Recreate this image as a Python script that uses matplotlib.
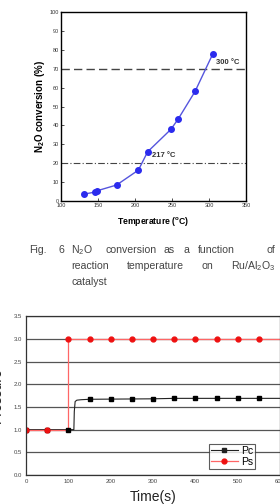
import matplotlib
matplotlib.use("Agg")
import matplotlib.pyplot as plt

plt.rcParams['font.family'] = ['Liberation Sans', 'DejaVu Sans']
plt.rcParams['mathtext.fontset'] = 'custom'
plt.rcParams['mathtext.rm'] = 'Liberation Sans'
plt.rcParams['mathtext.bf'] = 'Liberation Sans:bold'

# N2O conversion vs temperature
temp = [131.5, 146, 149, 175, 204.5, 217, 248.5, 258.5, 281, 305]
conv = [3.7, 4.8, 5.5, 8.5, 16.4, 26.1, 38.0, 43.6, 58.0, 77.9]

# pressure vs time
t_mark = [0, 50, 100, 150, 200, 250, 300, 350, 400, 450, 500, 550]
pc_mark = [1.0, 1.0, 1.0, 1.67, 1.67, 1.67, 1.68, 1.69, 1.69, 1.69, 1.69, 1.69]
ps_mark = [1.0, 1.0, 3.0, 3.0, 3.0, 3.0, 3.0, 3.0, 3.0, 3.0, 3.0, 3.0]
t_pc_line = [0, 113, 114, 116, 120, 130, 150, 300, 350, 600]
pc_line = [1.0, 1.0, 1.4, 1.62, 1.65, 1.66, 1.67, 1.68, 1.69, 1.69]
t_ps_line = [0, 100, 100, 600]
ps_line = [1.0, 1.0, 3.0, 3.0]

fig = plt.figure(figsize=(2.8, 5.04), dpi=100)

# ---- top chart
ax1 = fig.add_axes([0.218, 0.601, 0.661, 0.375])
ax1.axhline(70, color='#444444', lw=1.0, ls=(0, (6, 3)))
ax1.axhline(20, color='#444444', lw=0.8, ls=(0, (6, 2, 1, 2)))
ax1.plot(temp, conv, color='#5555dd', lw=1.0, marker='o', ms=4,
         mfc='#2b2bee', mec='#2b2bee')
ax1.text(309, 73.5, '300 °C', fontsize=5.5, fontweight='bold', color='#333333',
         va='center', ha='left')
ax1.text(222.5, 24, '217 °C', fontsize=5.5, fontweight='bold', color='#333333',
         va='center', ha='left')
ax1.set_xlim(100, 350)
ax1.set_ylim(0, 100)
ax1.set_xticks(range(100, 351, 50))
ax1.set_yticks(range(0, 101, 10))
ax1.tick_params(labelsize=4, colors='#333333', length=2, width=0.6, direction='in', pad=1.5)
for s in ax1.spines.values():
    s.set_linewidth(1.0)
ax1.set_xlabel('Temperature ($\\mathbf{^o}$C)', fontsize=6.2, fontweight='bold', labelpad=5)
ax1.set_ylabel('N$_\\mathbf{2}$O conversion (%)', fontsize=7, fontweight='bold', labelpad=2)

# ---- caption (justified by hand)
cap_col = '#444444'
cap_fs = 7.6
line1 = [(29, 'Fig.'), (58, '6'), (71, 'N$_2$O'), (105, 'conversion'), (163, 'as'),
         (183, 'a'), (198, 'function')]
for x, w in line1:
    fig.text(x / 280, 1 - 250 / 504, w, fontsize=cap_fs, color=cap_col, va='center')
fig.text(275 / 280, 1 - 250 / 504, 'of', fontsize=cap_fs, color=cap_col,
         va='center', ha='right')
line2 = [(71, 'reaction'), (127, 'temperature'), (202, 'on')]
for x, w in line2:
    fig.text(x / 280, 1 - 266 / 504, w, fontsize=cap_fs, color=cap_col, va='center')
fig.text(275 / 280, 1 - 266 / 504, 'Ru/Al$_2$O$_3$', fontsize=cap_fs, color=cap_col,
         va='center', ha='right')
fig.text(71 / 280, 1 - 282 / 504, 'catalyst', fontsize=cap_fs, color=cap_col, va='center')

# ---- bottom chart
ax2 = fig.add_axes([0.093, 0.0575, 0.907, 0.315])
ax2.plot(t_pc_line, pc_line, color='#222222', lw=0.8)
ax2.plot(t_ps_line, ps_line, color='#ff6666', lw=0.9)
ax2.plot(t_mark, pc_mark, ls='none', marker='s', ms=3.2, color='black')
ax2.plot(t_mark, ps_mark, ls='none', marker='o', ms=3.5, color='#ee1111')
ax2.plot([], [], color='#222222', lw=0.8, marker='s', ms=3.2, label='Pc')
ax2.plot([], [], color='#ff6666', lw=0.9, marker='o', ms=3.5, mfc='#ee1111',
         mec='#ee1111', label='Ps')
ax2.set_xlim(0, 600)
ax2.set_ylim(0, 3.5)
ax2.set_xticks(range(0, 601, 100))
ax2.set_yticks([0, 0.5, 1.0, 1.5, 2.0, 2.5, 3.0, 3.5])
ax2.set_yticklabels(['0.0', '0.5', '1.0', '1.5', '2.0', '2.5', '3.0', '3.5'])
ax2.yaxis.grid(True, color='#555555', lw=0.9)
ax2.set_axisbelow(True)
ax2.tick_params(labelsize=4.3, colors='#444444', length=0, pad=3)
for s in ax2.spines.values():
    s.set_linewidth(0.9)
    s.set_color('#333333')
leg = ax2.legend(loc='lower right', bbox_to_anchor=(0.902, 0.038), borderaxespad=0,
                 fontsize=7.5, frameon=True, fancybox=False, edgecolor='#333333',
                 handlelength=2.6, borderpad=0.2, labelspacing=0.1, handletextpad=0.3)
leg.get_frame().set_linewidth(0.8)
fig.text(0.5 + 0.046, 1 - 497 / 504, 'Time(s)', fontsize=10, color='#222222',
         ha='center', va='center')
fig.text(-0.012, 1 - 395 / 504, 'Pressure', fontsize=10, color='#222222',
         rotation=90, ha='center', va='center')

fig.savefig('out.png', dpi=100)
